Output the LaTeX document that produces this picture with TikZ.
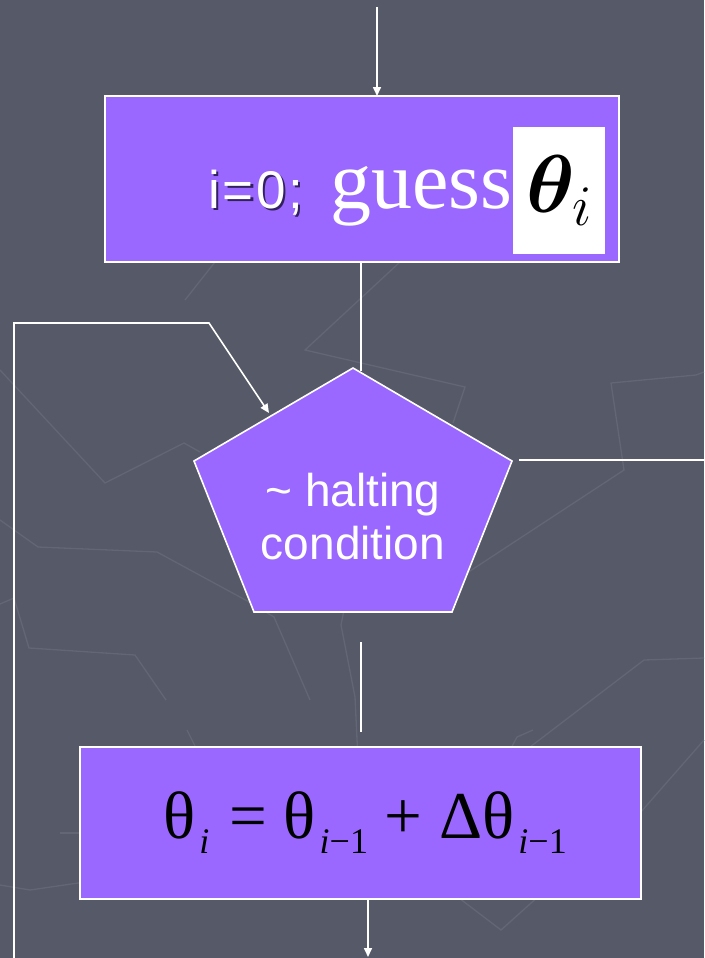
\documentclass[tikz,border=0pt]{standalone}
\usepackage{fix-cm}
\usepackage{amsmath,bm}
\usepackage{fontspec}
\setmainfont{Liberation Serif}
\setsansfont{Liberation Sans}
\usetikzlibrary{arrows.meta}

\definecolor{slidebg}{RGB}{86,89,103}
\definecolor{slideline}{RGB}{99,102,117}
\definecolor{boxfill}{RGB}{155,104,255}
\definecolor{idxshadow}{RGB}{50,32,95}

% lowered index i, i-1
\newcommand{\ix}[1]{\hspace{4pt}\raisebox{-15pt}{\fontsize{36}{36}\selectfont\textit{i}#1}}
% text with a dark drop shadow
\newcommand{\shadowed}[1]{\makebox[0pt][l]{\hspace{2.5pt}\raisebox{-2.5pt}{\textcolor{idxshadow}{#1}}}#1}

\begin{document}
\begin{tikzpicture}[x=1pt,y=-1pt,
  flowbox/.style={draw=white,line width=1.6pt,fill=boxfill,inner sep=0pt,outer sep=0pt},
  link/.style={draw=white,line width=1.6pt},
  flow/.style={link,-{Triangle[length=9pt,width=8pt]}},
  lbl/.style={inner sep=0pt,anchor=base west},
  bgline/.style={draw=slideline,line width=1.3pt}]

% slide background
\fill[slidebg] (0,0) rectangle (704,958);
\useasboundingbox (0,0) rectangle (704,958);

% faint template lines
\draw[bgline] (0,370) -- (105,483) -- (184,443) -- (200,452);
\draw[bgline] (0,520) -- (38,547) -- (157,552) -- (251,603) -- (274,617) -- (310,700);
\draw[bgline] (0,604) -- (14,598) -- (29,648) -- (135,655) -- (166,700);
\draw[bgline] (400,262) -- (305,350) -- (465,387) -- (453,423);
\draw[bgline] (185,300) -- (215,262);
\draw[bgline] (704,372) -- (696,375) -- (611,383) -- (624,470) -- (467,573);
\draw[bgline] (704,658) -- (644,660) -- (530,747);
\draw[bgline] (346,600) -- (341,625) -- (355,697) -- (358,760);
\draw[bgline] (455,895) -- (501,930) -- (540,895);
\draw[bgline] (0,885) -- (30,890) -- (85,882);
\draw[bgline] (60,833) -- (85,833);
\draw[bgline] (187,730) -- (197,750);
\draw[bgline] (510,750) -- (517,737) -- (533,730);
\draw[bgline] (704,740) -- (640,813);

% start box
\node[flowbox,minimum width=514pt,minimum height=166pt] (init) at (362,179) {};
\node[lbl,text=white,font=\sffamily\fontsize{53}{53}\selectfont\addfontfeature{LetterSpace=5}] (initidx) at (208,208)
  {\shadowed{i=0;}};
\node[lbl,font=\fontsize{82}{82}\selectfont,text=white] (guess) at (330,208) {guess};
\node[fill=white,minimum width=92pt,minimum height=127pt,inner sep=0pt] (thetabox) at (559,190.5)
  {\fontsize{82}{82}\selectfont$\bm{\theta}_i$};

% halting test
\coordinate (ptop) at (353,368);
\coordinate (pright) at (512,461);
\coordinate (pbr) at (452,612);
\coordinate (pbl) at (254,612);
\coordinate (pleft) at (194,461);
\draw[link,fill=boxfill] (ptop) -- (pright) -- (pbr) -- (pbl) -- (pleft) -- cycle;
\node[align=center,inner sep=0pt,text=white,font=\sffamily\fontsize{46}{53}\selectfont] (halt) at (353,517)
  {\textasciitilde{} halting\\condition};

% update box
\node[flowbox,minimum width=561pt,minimum height=152pt,font=\fontsize{67}{67}\selectfont] (update) at (360.5,823)
  {\hspace{9pt}θ\ix{}\hspace{3pt} = θ\ix{−1} + Δθ\ix{−1}};

% connectors
\coordinate (entry) at (377,7);
\draw[flow] (entry) -- (entry |- init.north);
\coordinate (haltin) at (361,371);
\draw[link] (init.south -| haltin) -- (haltin);

% loop back into the test
\coordinate (loopstart) at (14,958);
\coordinate (loopbend) at (14,323);
\coordinate (loopturn) at (209,323);
\coordinate (loopend) at (269,413);
\draw[flow] (loopstart) -- (loopbend) -- (loopturn) -- (loopend);

% exit to the right
\coordinate (exitstart) at (519,460);
\coordinate (exitend) at (704,460);
\draw[link] (exitstart) -- (exitend);

% on to the update
\coordinate (contstart) at (361,642);
\coordinate (contend) at (361,732);
\draw[link] (contstart) -- (contend);
\coordinate (outend) at (368,957);
\draw[flow] (update.south -| outend) -- (outend);
\end{tikzpicture}
\end{document}
